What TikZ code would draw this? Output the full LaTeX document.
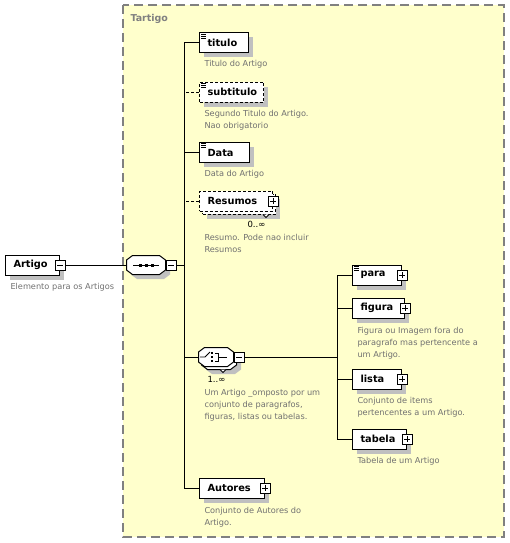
\documentclass[tikz,border=0pt]{standalone}
\usepackage{fontspec}
\setmainfont{DejaVu Sans}
\usetikzlibrary{shadows}

\definecolor{fundotipo}{RGB}{255,255,204}
\definecolor{bordatipo}{RGB}{128,128,128}
\definecolor{sombra}{RGB}{192,192,192}
\definecolor{textodesc}{RGB}{112,112,112}

\tikzset{
    elem/.style={draw, fill=white, line width=1pt, minimum height=20pt, inner xsep=8pt, inner ysep=0pt, text width=#1, align=left, anchor=west, font=\fontsize{9.8}{11}\selectfont\bfseries},
    comsombra/.style={drop shadow={shadow xshift=4.5pt, shadow yshift=-4.5pt, fill=sombra, opacity=1}},
    opcional/.style={dash pattern=on 3pt off 2pt},
    compositor/.style={rectangle, minimum height=18pt, inner sep=0pt},
    caixa/.style={draw, fill=white, line width=0.8pt, minimum size=10pt, inner sep=0pt},
    mais/.style={caixa, path picture={\draw[line width=0.8pt] ([xshift=2pt]path picture bounding box.west) -- ([xshift=-2pt]path picture bounding box.east) ([yshift=-2pt]path picture bounding box.north) -- ([yshift=2pt]path picture bounding box.south);}},
    menos/.style={caixa, path picture={\draw[line width=0.8pt] ([xshift=2pt]path picture bounding box.west) -- ([xshift=-2pt]path picture bounding box.east);}},
    desc/.style={anchor=north west, inner sep=0pt, align=left, text=textodesc, font=\fontsize{8.2}{12}\selectfont},
    mult/.style={anchor=north west, inner sep=0pt, font=\fontsize{8.5}{10}\selectfont},
}

\newcommand{\icone}[1]{\foreach \d in {1.5,3.5,5.5} \draw[line width=0.7pt] ([shift={(2,\d)}]#1.north west) -- ++(5,0);}
% octogono em volta de um compositor, deslocado de #3
\newcommand{\octogono}[3][]{\path[#1] ([shift={(#3)}, xshift=6pt]#2.north west) -- ([shift={(#3)}, xshift=-6pt]#2.north east) -- ([shift={(#3)}, yshift=-4.5pt]#2.north east) -- ([shift={(#3)}, yshift=4.5pt]#2.south east) -- ([shift={(#3)}, xshift=-6pt]#2.south east) -- ([shift={(#3)}, xshift=6pt]#2.south west) -- ([shift={(#3)}, yshift=4.5pt]#2.south west) -- ([shift={(#3)}, yshift=-4.5pt]#2.north west) -- cycle;}

\begin{document}
\begin{tikzpicture}[x=1pt, y=-1pt, line width=1pt]
    \useasboundingbox (0,0) rectangle (510,543);

    % tipo complexo
    \draw[fill=fundotipo, draw=bordatipo, line width=1.5pt, dash pattern=on 9pt off 5pt] (123,5) rectangle (504,537);
    \node[anchor=north west, inner sep=0pt, text=bordatipo, font=\fontsize{9.5}{11}\selectfont\bfseries] (tartigo) at (130,14) {Tartigo};

    % elemento raiz
    \node[elem=38, comsombra] (artigo) at (5,265) {Artigo};
    \node[menos] (artigomenos) at (artigo.east) {};
    \node[desc] (artigodesc) at (10,283) {Elemento para os Artigos};

    % sequencia
    \node[compositor, minimum width=38pt] (seq) at (146,265) {};
    \octogono[fill=sombra]{seq}{4.5,4.5}
    \octogono[draw, fill=white]{seq}{0,0}
    \node[menos, anchor=west] (seqmenos) at (seq.east) {};
    \draw[line width=0.8pt] ([xshift=-13pt]seq.center) -- ([xshift=13pt]seq.center);
    \foreach \d in {-6,0,6} \fill ([xshift=\d pt]seq.center) ++(-1.5,-1.5) rectangle ++(3,3);

    % filhos da sequencia
    \node[elem=33, comsombra] (titulo) at (199,43) {titulo};
    \icone{titulo}
    \node[desc] (titulodesc) at (204,60) {Titulo do Artigo};

    \node[elem=48, comsombra, opcional] (subtitulo) at (199,92) {subtitulo};
    \icone{subtitulo}
    \node[desc] (subtitulodesc) at (204,110) {Segundo Titulo do Artigo.\\Nao obrigatorio};

    \node[elem=34, comsombra] (data) at (199,152.5) {Data};
    \icone{data}
    \node[desc] (datadesc) at (204,170) {Data do Artigo};

    \node[elem=57, comsombra, opcional] (resumosfundo) at (202,204) {};
    \node[elem=57, opcional] (resumos) at (199,201) {Resumos};
    \node[mais] (resumosmais) at (resumos.east) {};
    \draw[fill=white, line width=0.8pt] ([xshift=-10pt]resumosfundo.south east) ++(-3,0) -- ++(3,3) -- ++(3,-3);
    \node[mult] (resumosmult) at (247,221) {0..∞};
    \node[desc] (resumosdesc) at (204,234) {Resumo. Pode nao incluir\\Resumos};

    % escolha
    \node[compositor, minimum width=34pt] (escolha) at (216,357) {};
    \octogono[fill=sombra]{escolha}{7.5,7.5}
    \octogono[draw, fill=white]{escolha}{3,3}
    \octogono[draw, fill=white]{escolha}{0,0}
    \node[menos, anchor=west] (escolhamenos) at (escolha.east) {};
    \draw[fill=white, line width=0.8pt] ([xshift=7pt, yshift=-3pt]escolha.south) ++(-3,0) -- ++(3,3) -- ++(3,-3);
    \draw[line width=0.8pt] ([xshift=-16pt]escolha.center) -- ++(5,0) -- ++(5,-5);
    \foreach \d in {-4,0,4} \fill ([shift={(-4,\d)}]escolha.center) ++(-1,-1) rectangle ++(2,2);
    \draw[line width=0.8pt] ([shift={(-1,-4)}]escolha.center) -- ++(3,0) -- ++(0,8) -- ++(-3,0);
    \draw[line width=0.8pt] ([shift={(2,0)}]escolha.center) -- ++(9,0);
    \node[mult] (escolhamult) at (207,376) {1..∞};
    \node[desc] (escolhadesc) at (204,389) {Um Artigo \_omposto por um\\conjunto de paragrafos,\\figuras, listas ou tabelas.};

    % filhos da escolha
    \node[elem=33, comsombra] (para) at (352,275) {para};
    \icone{para}
    \node[mais] (paramais) at (para.east) {};

    \node[elem=36, comsombra] (figura) at (352,308) {figura};
    \node[mais] (figuramais) at (figura.east) {};
    \node[desc] (figuradesc) at (357,327) {Figura ou Imagem fora do\\paragrafo mas pertencente a\\um Artigo.};

    \node[elem=33, comsombra] (lista) at (352,379) {lista};
    \node[mais] (listamais) at (lista.east) {};
    \node[desc] (listadesc) at (357,397) {Conjunto de items\\pertencentes a um Artigo.};

    \node[elem=38, comsombra] (tabela) at (352,439) {tabela};
    \node[mais] (tabelamais) at (tabela.east) {};
    \node[desc] (tabeladesc) at (357,457) {Tabela de um Artigo};

    \node[elem=49, comsombra] (autores) at (199,488) {Autores};
    \node[mais] (autoresmais) at (autores.east) {};
    \node[desc] (autoresdesc) at (204,507) {Conjunto de Autores do\\Artigo.};

    % ligacoes
    \coordinate (tronco) at (184,0);
    \coordinate (tronco2) at (337,0);
    \draw (artigomenos.east) -- (seq.west);
    \draw (seqmenos.east) -- (seqmenos.east -| tronco);
    \draw (titulo.west) -- (titulo.west -| tronco) -- (autores.west -| tronco) -- (autores.west);
    \draw (data.west) -- (data.west -| tronco);
    \draw (escolha.west) -- (escolha.west -| tronco);
    \draw[opcional] (subtitulo.west) -- (subtitulo.west -| tronco);
    \draw[opcional] (resumos.west) -- (resumos.west -| tronco);
    \draw (escolhamenos.east) -- (escolhamenos.east -| tronco2);
    \draw (para.west) -- (para.west -| tronco2) -- (tabela.west -| tronco2) -- (tabela.west);
    \draw (figura.west) -- (figura.west -| tronco2);
    \draw (lista.west) -- (lista.west -| tronco2);
\end{tikzpicture}
\end{document}
